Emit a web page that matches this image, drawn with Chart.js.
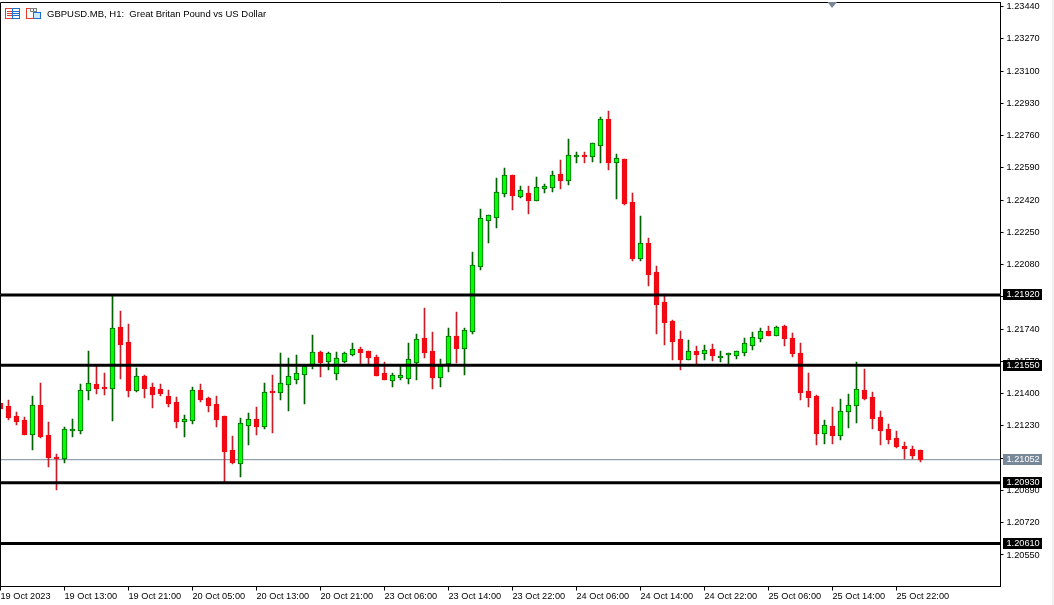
<!DOCTYPE html>
<html>
<head>
<meta charset="utf-8">
<title>GBPUSD.MB, H1</title>
<script src="https://cdn.jsdelivr.net/npm/chart.js@4"></script>
<style>
  html, body { margin: 0; padding: 0; background: #fff; }
  canvas { display: block; }
  #strip { position: absolute; left: 1052px; top: 0; width: 2px; height: 605px; background: #f0f0f0; }
</style>
</head>
<body>
<canvas id="chart" width="1054" height="605"></canvas>
<div id="strip"></div>
<script>
// candles, one hour each
const opens = [
  1.21346, 1.21332, 1.21280, 1.21258, 1.21186, 1.21336, 1.21179, 1.21062, 1.21060, 1.21208,
  1.21208, 1.21418, 1.21448, 1.21431, 1.21429, 1.21748, 1.21669, 1.21418, 1.21490, 1.21432,
  1.21422, 1.21385, 1.21353, 1.21255, 1.21260, 1.21417, 1.21374, 1.21343, 1.21280, 1.21100,
  1.21034, 1.21234, 1.21264, 1.21227, 1.21410, 1.21408, 1.21450, 1.21476, 1.21503, 1.21552,
  1.21617, 1.21571, 1.21508, 1.21571, 1.21608, 1.21633, 1.21622, 1.21590, 1.21506, 1.21471,
  1.21487, 1.21481, 1.21566, 1.21690, 1.21622, 1.21487, 1.21557, 1.21701, 1.21640, 1.21729,
  1.22072, 1.22315, 1.22330, 1.22457, 1.22550, 1.22439, 1.22455, 1.22420, 1.22483, 1.22488,
  1.22555, 1.22525, 1.22650, 1.22655, 1.22652, 1.22710, 1.22845, 1.22620, 1.22634, 1.22408,
  1.22114, 1.22190, 1.22037, 1.21880, 1.21780, 1.21686, 1.21582, 1.21622, 1.21614, 1.21633,
  1.21592, 1.21608, 1.21603, 1.21619, 1.21656, 1.21693, 1.21728, 1.21708, 1.21754, 1.21691,
  1.21612, 1.21412, 1.21385, 1.21192, 1.21227, 1.21182, 1.21308, 1.21340, 1.21417, 1.21380,
  1.21275, 1.21211, 1.21164, 1.21122, 1.21106, 1.21101
];
const highs = [
  1.21346, 1.21364, 1.21301, 1.21274, 1.21385, 1.21453, 1.21248, 1.21079, 1.21222, 1.21264,
  1.21448, 1.21622, 1.21543, 1.21506, 1.21912, 1.21833, 1.21764, 1.21532, 1.21494, 1.21453,
  1.21448, 1.21417, 1.21380, 1.21285, 1.21432, 1.21448, 1.21380, 1.21385, 1.21280, 1.21174,
  1.21269, 1.21295, 1.21327, 1.21453, 1.21496, 1.21611, 1.21585, 1.21601, 1.21541, 1.21706,
  1.21622, 1.21617, 1.21617, 1.21615, 1.21664, 1.21641, 1.21622, 1.21601, 1.21564, 1.21506,
  1.21543, 1.21664, 1.21712, 1.21848, 1.21722, 1.21580, 1.21743, 1.21827, 1.21743, 1.22143,
  1.22371, 1.22337, 1.22534, 1.22587, 1.22550, 1.22492, 1.22492, 1.22539, 1.22502, 1.22571,
  1.22629, 1.22740, 1.22671, 1.22671, 1.22717, 1.22855, 1.22887, 1.22661, 1.22634, 1.22455,
  1.22334, 1.22218, 1.22070, 1.21925, 1.21784, 1.21728, 1.21680, 1.21649, 1.21654, 1.21659,
  1.21622, 1.21612, 1.21622, 1.21691, 1.21722, 1.21743, 1.21756, 1.21754, 1.21759, 1.21717,
  1.21664, 1.21506, 1.21390, 1.21259, 1.21327, 1.21369, 1.21396, 1.21564, 1.21527, 1.21406,
  1.21306, 1.21238, 1.21201, 1.21143, 1.21122, 1.21101
];
const lows = [
  1.21322, 1.21266, 1.21239, 1.21186, 1.21106, 1.21169, 1.21016, 1.20895, 1.21037, 1.21174,
  1.21190, 1.21369, 1.21401, 1.21395, 1.21258, 1.21480, 1.21385, 1.21411, 1.21380, 1.21327,
  1.21390, 1.21332, 1.21222, 1.21174, 1.21243, 1.21359, 1.21306, 1.21227, 1.20935, 1.21032,
  1.20963, 1.21132, 1.21185, 1.21216, 1.21197, 1.21369, 1.21311, 1.21453, 1.21348, 1.21532,
  1.21490, 1.21527, 1.21474, 1.21564, 1.21601, 1.21553, 1.21553, 1.21496, 1.21474, 1.21438,
  1.21474, 1.21453, 1.21474, 1.21590, 1.21427, 1.21438, 1.21517, 1.21564, 1.21501, 1.21717,
  1.22055, 1.22197, 1.22276, 1.22439, 1.22371, 1.22434, 1.22350, 1.22418, 1.22460, 1.22466,
  1.22481, 1.22502, 1.22618, 1.22618, 1.22624, 1.22618, 1.22582, 1.22429, 1.22397, 1.22102,
  1.22102, 1.21970, 1.21717, 1.21659, 1.21580, 1.21527, 1.21580, 1.21559, 1.21580, 1.21575,
  1.21570, 1.21559, 1.21585, 1.21601, 1.21633, 1.21675, 1.21707, 1.21707, 1.21654, 1.21596,
  1.21369, 1.21333, 1.21132, 1.21138, 1.21138, 1.21159, 1.21222, 1.21248, 1.21369, 1.21217,
  1.21132, 1.21138, 1.21117, 1.21059, 1.21059, 1.21043
];
const closes = [
  1.21322, 1.21276, 1.21253, 1.21186, 1.21336, 1.21176, 1.21065, 1.21060, 1.21209, 1.21209,
  1.21415, 1.21452, 1.21427, 1.21429, 1.21741, 1.21659, 1.21417, 1.21489, 1.21427, 1.21395,
  1.21399, 1.21348, 1.21253, 1.21262, 1.21415, 1.21369, 1.21337, 1.21264, 1.21095, 1.21037,
  1.21241, 1.21262, 1.21227, 1.21404, 1.21408, 1.21452, 1.21489, 1.21504, 1.21541, 1.21615,
  1.21564, 1.21610, 1.21583, 1.21610, 1.21631, 1.21617, 1.21590, 1.21496, 1.21474, 1.21494,
  1.21496, 1.21578, 1.21683, 1.21617, 1.21485, 1.21543, 1.21699, 1.21638, 1.21731, 1.22074,
  1.22322, 1.22337, 1.22459, 1.22548, 1.22445, 1.22469, 1.22418, 1.22485, 1.22492, 1.22548,
  1.22524, 1.22654, 1.22654, 1.22652, 1.22717, 1.22843, 1.22618, 1.22638, 1.22402, 1.22113,
  1.22190, 1.22028, 1.21870, 1.21775, 1.21675, 1.21580, 1.21621, 1.21606, 1.21628, 1.21601,
  1.21596, 1.21610, 1.21621, 1.21663, 1.21694, 1.21726, 1.21707, 1.21747, 1.21691, 1.21612,
  1.21406, 1.21380, 1.21190, 1.21231, 1.21180, 1.21304, 1.21336, 1.21420, 1.21375, 1.21269,
  1.21206, 1.21159, 1.21122, 1.21111, 1.21074, 1.21052
];

const timeLabels = [
  '19 Oct 2023', '19 Oct 13:00', '19 Oct 21:00', '20 Oct 05:00', '20 Oct 13:00',
  '20 Oct 21:00', '23 Oct 06:00', '23 Oct 14:00', '23 Oct 22:00', '24 Oct 06:00',
  '24 Oct 14:00', '24 Oct 22:00', '25 Oct 06:00', '25 Oct 14:00', '25 Oct 22:00'
];
const priceTicks = [
  1.2344, 1.2327, 1.2310, 1.2293, 1.2276, 1.2259, 1.2242, 1.2225, 1.2208,
  1.2191, 1.2174, 1.2157, 1.2140, 1.2123, 1.2106, 1.2089, 1.2072, 1.2055
];
const levels = [1.2192, 1.2155, 1.2093, 1.2061];
const lastPrice = 1.21052;
const chartTitle = 'GBPUSD.MB, H1:  Great Britan Pound vs US Dollar';

const UP_FILL = '#00ff00', UP_EDGE = '#006400', DOWN = '#f00a14', DOWN_WICK = '#c81e28';
const FONT_FAMILY = 'Liberation Sans', FONT_SIZE = 9.2;
const xMax = 125, labelStep = 8;

const candles = opens.map((o, i) => ({ o, h: highs[i], l: lows[i], c: closes[i], i }));
const isUp = d => d.c >= d.o;

// MT5 draws on whole pixels, so snap the bars after the layout is done
const snapBars = {
  id: 'snapBars',
  beforeDatasetsDraw(chart) {
    chart.data.datasets.forEach((ds, n) => {
      if (ds.type !== 'bar') return;
      chart.getDatasetMeta(n).data.forEach(el => {
        el.y = Math.floor(el.y);
        el.base = Math.floor(el.base) + 1;
      });
    });
  }
};

// frame, tags, marker and caption
const extras = {
  id: 'extras',
  afterDraw(chart) {
    const { ctx, chartArea: a, scales: { y } } = chart;
    ctx.save();
    ctx.strokeStyle = '#000';
    ctx.lineWidth = 1;
    ctx.beginPath();
    ctx.moveTo(a.left, a.bottom);
    ctx.lineTo(a.left, a.top);
    ctx.lineTo(a.right, a.top);
    ctx.stroke();

    ctx.font = FONT_SIZE + 'px "' + FONT_FAMILY + '"';
    ctx.textBaseline = 'middle';
    ctx.textAlign = 'left';
    const tag = (value, bg) => {
      const py = Math.floor(y.getPixelForValue(value)) + 0.5;
      ctx.fillStyle = bg;
      ctx.fillRect(1003, py - 5.5, 39, 11);
      ctx.fillStyle = '#fff';
      ctx.fillText(value.toFixed(5), 1006.5, py);
    };
    tag(lastPrice, '#778899');
    levels.forEach(v => tag(v, '#000'));

    // shift marker on the top edge
    ctx.fillStyle = '#778899';
    ctx.beginPath();
    ctx.moveTo(827.5, 2);
    ctx.lineTo(837, 2);
    ctx.lineTo(832, 8);
    ctx.fill();

    // the two toolbar icons
    ctx.strokeStyle = '#e8392b';
    ctx.strokeRect(5.5, 8.5, 7, 10);
    ctx.strokeStyle = '#1c6fd0';
    ctx.strokeRect(12.5, 8.5, 7, 10);
    for (const ly of [11.5, 13.5, 15.5]) {
      ctx.strokeStyle = '#e8392b';
      ctx.beginPath(); ctx.moveTo(7, ly); ctx.lineTo(12, ly); ctx.stroke();
      ctx.strokeStyle = '#1c6fd0';
      ctx.beginPath(); ctx.moveTo(13, ly); ctx.lineTo(19, ly); ctx.stroke();
    }
    ctx.strokeStyle = '#e8392b';
    ctx.strokeRect(26.5, 8.5, 7, 10);
    ctx.fillStyle = '#cfe6f8';
    ctx.fillRect(34, 13, 6, 5);
    ctx.strokeStyle = '#1c6fd0';
    ctx.strokeRect(33.5, 12.5, 7, 6);
    ctx.strokeStyle = '#808080';
    ctx.strokeRect(30.5, 8.5, 6, 3);

    ctx.fillStyle = '#000';
    ctx.font = '9.5px "' + FONT_FAMILY + '"';
    ctx.fillText(chartTitle, 47, 14);
    ctx.restore();
  }
};

new Chart(document.getElementById('chart'), {
  data: {
    datasets: [
      ...levels.map(v => ({
        type: 'line',
        data: [{ x: 0, y: v }, { x: xMax, y: v }],
        borderColor: '#000', borderWidth: 3, pointRadius: 0
      })),
      {
        type: 'bar', grouped: false,
        data: candles.map(d => ({ x: d.i, y: [d.o, d.c] })),
        barThickness: 5, minBarLength: 1, borderWidth: 1, borderSkipped: false,
        backgroundColor: candles.map(d => isUp(d) ? UP_FILL : DOWN),
        borderColor: candles.map(d => isUp(d) ? UP_EDGE : DOWN)
      },
      {
        type: 'bar', grouped: false,
        data: candles.map(d => ({ x: d.i, y: [d.l, d.h] })),
        barThickness: 1,
        backgroundColor: candles.map(d => isUp(d) ? UP_EDGE : DOWN_WICK)
      },
      {
        type: 'line',
        data: [{ x: 0, y: lastPrice }, { x: xMax, y: lastPrice }],
        borderColor: '#778899', borderWidth: 1, pointRadius: 0
      }
    ]
  },
  options: {
    responsive: false,
    animation: false,
    events: [],
    layout: { padding: { left: 0.5, top: 2.5, right: 0, bottom: 0 } },
    plugins: { legend: { display: false }, tooltip: { enabled: false } },
    scales: {
      x: {
        type: 'linear', min: 0, max: xMax, offset: false,
        afterBuildTicks: s => { s.ticks = timeLabels.map((_, k) => ({ value: k * labelStep })); },
        afterFit: s => { s.height = 18.5; s.paddingLeft = 0; s.paddingRight = 0; },
        grid: { offset: false, drawOnChartArea: false, tickLength: 4, color: '#000' },
        border: { color: '#000' },
        ticks: {
          autoSkip: false, maxRotation: 0, align: 'start', padding: 0,
          color: '#000', font: { family: FONT_FAMILY, size: FONT_SIZE },
          callback: v => timeLabels[v / labelStep]
        }
      },
      y: {
        position: 'right',
        min: 1.20384, max: 1.23461,
        afterBuildTicks: s => { s.ticks = priceTicks.map(value => ({ value })); },
        afterFit: s => { s.width = 53.5; s.paddingTop = 0; s.paddingBottom = 0; },
        grid: { drawOnChartArea: false, tickLength: 3, color: '#000' },
        border: { color: '#000' },
        ticks: {
          padding: 3, color: '#000', font: { family: FONT_FAMILY, size: FONT_SIZE },
          callback: v => v.toFixed(5)
        }
      }
    }
  },
  plugins: [snapBars, extras]
});
</script>
</body>
</html>
